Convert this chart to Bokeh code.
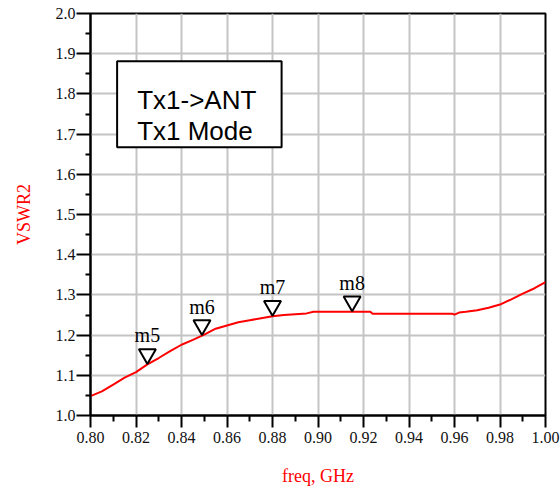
from bokeh.plotting import figure
from bokeh.embed import file_html
from bokeh.resources import INLINE
from bokeh.models import FixedTicker, PrintfTickFormatter, BoxAnnotation, Label, ColumnDataSource
from bokeh.core.properties import value

# ---- data ----
freq = [0.800, 0.805, 0.810, 0.815, 0.820, 0.825, 0.830, 0.835, 0.840, 0.845,
        0.850, 0.855, 0.860, 0.865, 0.870, 0.875, 0.880, 0.885, 0.890, 0.895,
        0.898, 0.900, 0.910, 0.920, 0.923, 0.924, 0.930, 0.940, 0.950, 0.959,
        0.960, 0.962, 0.965, 0.970, 0.975, 0.980, 0.985, 0.990, 0.995, 1.000]
vswr = [1.048, 1.060, 1.077, 1.094, 1.108, 1.127, 1.143, 1.160, 1.176, 1.188,
        1.201, 1.216, 1.224, 1.232, 1.237, 1.242, 1.247, 1.250, 1.252, 1.254,
        1.258, 1.258, 1.258, 1.258, 1.258, 1.253, 1.253, 1.253, 1.253, 1.253,
        1.251, 1.256, 1.258, 1.262, 1.268, 1.276, 1.289, 1.303, 1.316, 1.332]

marker_names = ["m5", "m6", "m7", "m8"]
marker_freq = [0.825, 0.849, 0.880, 0.915]
marker_vswr = [1.127, 1.199, 1.247, 1.258]

x_ticks = [0.80, 0.82, 0.84, 0.86, 0.88, 0.90, 0.92, 0.94, 0.96, 0.98, 1.00]
x_minor = [0.81, 0.83, 0.85, 0.87, 0.89, 0.91, 0.93, 0.95, 0.97, 0.99]
y_ticks = [1.0, 1.1, 1.2, 1.3, 1.4, 1.5, 1.6, 1.7, 1.8, 1.9, 2.0]
y_minor = [1.05, 1.15, 1.25, 1.35, 1.45, 1.55, 1.65, 1.75, 1.85, 1.95]

title_lines = ["Tx1->ANT", "Tx1 Mode"]

# ---- figure ----
X0, X1, Y0, Y1 = 0.80, 1.00, 1.0, 2.0
W, H = 560, 492
ML, MR, MT, MB = 90, 15, 13, 77
p = figure(width=W, height=H, x_range=(X0, X1), y_range=(Y0, Y1),
           output_backend="svg", toolbar_location=None,
           min_border_left=ML, min_border_right=MR, min_border_top=MT, min_border_bottom=MB)
p.background_fill_color = "white"
p.border_fill_color = "white"
p.outline_line_color = "black"
p.outline_line_width = 2

serif = "Liberation Serif"
for ax in (p.xaxis[0], p.yaxis[0]):
    ax.axis_line_color = "black"
    ax.axis_line_width = 2
    ax.major_tick_line_color = "black"
    ax.major_tick_line_width = 2
    ax.minor_tick_line_color = "black"
    ax.minor_tick_line_width = 2
    ax.major_tick_in = 0
    ax.minor_tick_in = 0
    ax.major_label_text_font = serif
    ax.major_label_text_font_size = "16px"
    ax.major_label_text_color = "#111111"
    ax.axis_label_text_font = serif
    ax.axis_label_text_font_size = "18px"
    ax.axis_label_text_font_style = "normal"
    ax.axis_label_text_color = "red"

p.xaxis[0].ticker = FixedTicker(ticks=x_ticks, minor_ticks=x_minor)
p.xaxis[0].formatter = PrintfTickFormatter(format="%.2f")
p.xaxis[0].major_tick_out = 12
p.xaxis[0].minor_tick_out = 6
p.xaxis[0].major_label_standoff = 4
p.xaxis[0].axis_label = "freq, GHz"
p.xaxis[0].axis_label_standoff = 20

p.yaxis[0].ticker = FixedTicker(ticks=y_ticks, minor_ticks=y_minor)
p.yaxis[0].formatter = PrintfTickFormatter(format="%.1f")
p.yaxis[0].major_tick_out = 14
p.yaxis[0].minor_tick_out = 5
p.yaxis[0].major_label_standoff = 1
p.yaxis[0].axis_label = "VSWR2"
p.yaxis[0].axis_label_standoff = 19

for g in (p.xgrid[0], p.ygrid[0]):
    g.grid_line_color = "#c4c4c4"
    g.grid_line_width = 2
p.xgrid[0].ticker = FixedTicker(ticks=x_ticks)
p.ygrid[0].ticker = FixedTicker(ticks=y_ticks)

# curve
p.line(freq, vswr, line_color="red", line_width=2)

# markers: inverted triangles with tip on the curve
frame_h = H - MT - MB
px = (Y1 - Y0) / frame_h
tri_size = 17
tip_px = (tri_size / 2) * (3 ** 0.5) * 2 / 3 + 0.5
msrc = ColumnDataSource(dict(x=marker_freq,
                             yc=[v + tip_px * px for v in marker_vswr],
                             yt=[v + 29 * px for v in marker_vswr],
                             name=marker_names))
p.scatter(x="x", y="yc", source=msrc, marker="inverted_triangle", size=tri_size,
          fill_color="white", line_color="black", line_width=2)
p.text(x="x", y="yt", text="name", source=msrc,
       text_align="center", text_baseline="alphabetic",
       text_font=value(serif), text_font_size="20px", text_color="black")

# legend-like annotation box
box = BoxAnnotation(left=0.8117, right=0.884, top=1.881, bottom=1.667,
                    fill_color="white", fill_alpha=1.0,
                    line_color="black", line_width=2, line_alpha=1.0)
p.add_layout(box)
for i, t in enumerate(title_lines):
    lab = Label(x=0.8205, y=1.7836 - i * 0.0771, text=t,
                text_font="Liberation Sans", text_font_size="26px",
                text_color="black", text_baseline="alphabetic", text_align="left")
    p.add_layout(lab)

open("out.html", "w").write(file_html(p, INLINE))
